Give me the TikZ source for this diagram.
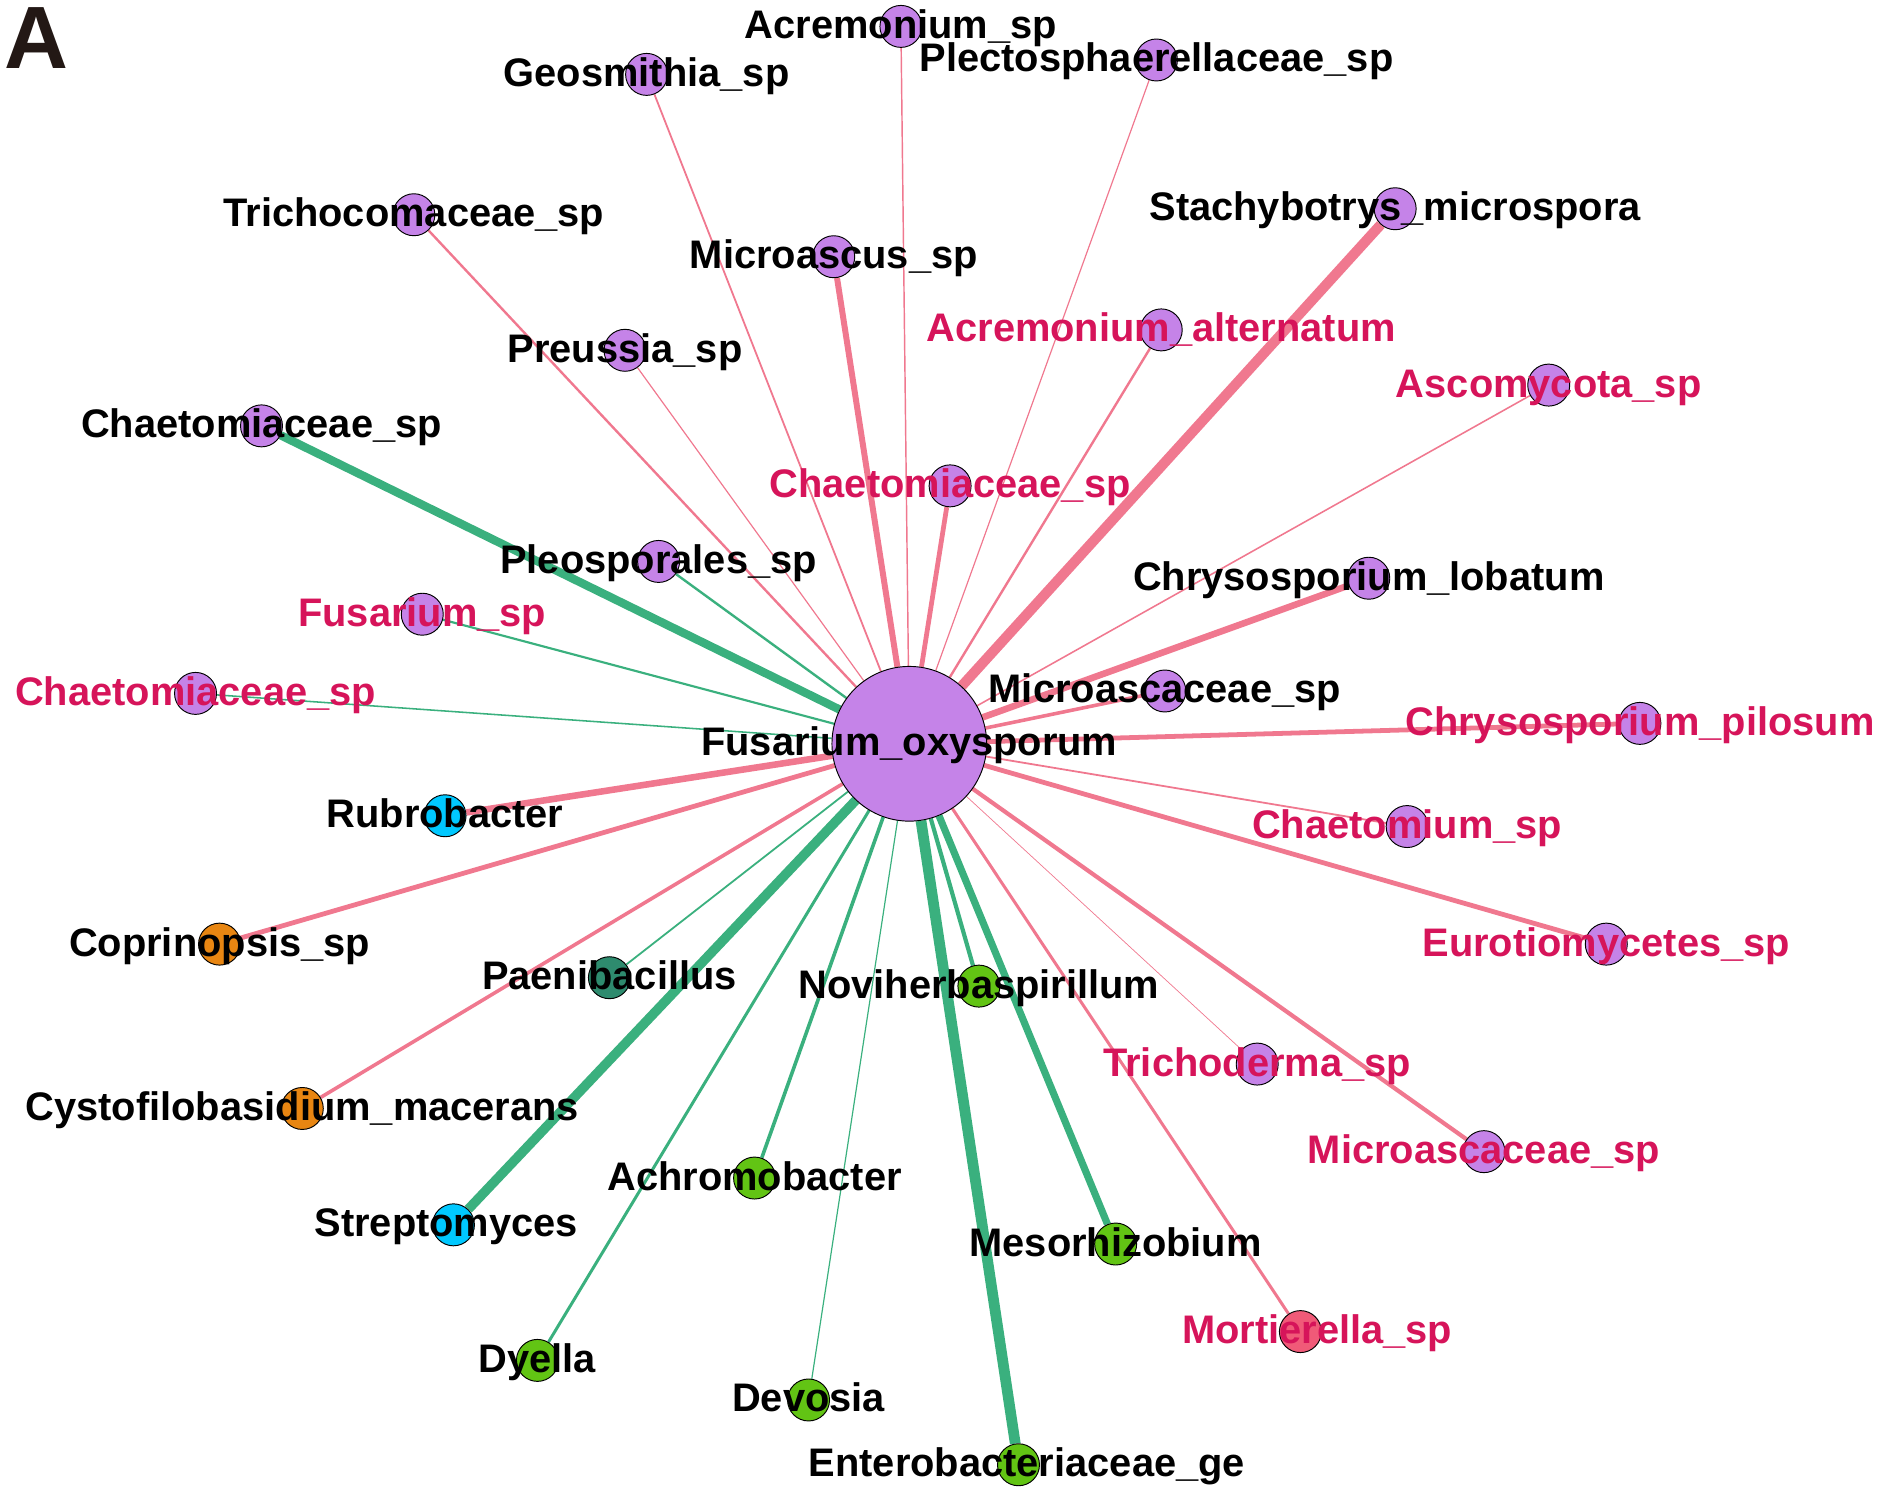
\documentclass[tikz,border=0pt]{standalone}
\usepackage{fontspec}
\setmainfont{Liberation Sans}
\definecolor{purp}{RGB}{197,131,232}
\definecolor{pinkE}{RGB}{240,120,143}
\definecolor{greenE}{RGB}{58,176,126}
\definecolor{labred}{RGB}{214,20,90}
\definecolor{cyanN}{RGB}{0,200,255}
\definecolor{orangeN}{RGB}{232,134,18}
\definecolor{limeN}{RGB}{98,196,20}
\definecolor{dgreenN}{RGB}{46,139,110}
\definecolor{mortN}{RGB}{240,90,120}
\definecolor{letterA}{RGB}{35,24,21}
\newcommand\labfont{\fontsize{18.9}{20}\selectfont\bfseries}
\pgfdeclarelayer{edges}
\pgfsetlayers{edges,main}
\tikzset{
  tx/.style={circle,draw=black,line width=0.45pt,minimum size=0.7cm,inner sep=0pt},
  fun/.style={tx,fill=purp},
  bac/.style={tx,fill=#1},
  lab/.style={font=\labfont,anchor=base,inner sep=0pt,yshift=-0.2cm},
  rl/.style={lab,text=labred},
  pe/.style={draw=pinkE,line width=#1*0.567pt},
  ge/.style={draw=greenE,line width=#1*0.567pt},
}
\begin{document}
\begin{tikzpicture}[x=0.02cm,y=-0.02cm]
\useasboundingbox (0,0) rectangle (1568,1242);
% nodes
\node[fun,minimum size=2.58cm] (c) at (758,620) {};
\node[fun] (n1) at (751,22) {};
\node[fun] (n2) at (964,50) {};
\node[fun] (n3) at (539,62) {};
\node[fun] (n4) at (345,179) {};
\node[fun] (n5) at (695,214) {};
\node[fun] (n6) at (1163,174) {};
\node[fun] (n7) at (968,275) {};
\node[fun] (n8) at (521,292) {};
\node[fun] (n9) at (1291,321) {};
\node[fun] (n10) at (218,355) {};
\node[fun] (n11) at (792,405) {};
\node[fun] (n12) at (549,468) {};
\node[fun] (n13) at (1141,482) {};
\node[fun] (n14) at (352,512) {};
\node[fun] (n15) at (163,578) {};
\node[fun] (n16) at (971,576) {};
\node[fun] (n17) at (1367,603) {};
\node[bac=cyanN] (n18) at (371,680) {};
\node[fun] (n19) at (1173,689) {};
\node[bac=orangeN] (n20) at (183,787) {};
\node[fun] (n21) at (1339,787) {};
\node[bac=dgreenN] (n22) at (508,815) {};
\node[bac=limeN] (n23) at (816,822) {};
\node[fun] (n24) at (1048,887) {};
\node[bac=orangeN] (n25) at (252,924) {};
\node[fun] (n26) at (1237,960) {};
\node[bac=limeN] (n27) at (629,982) {};
\node[bac=cyanN] (n28) at (378,1021) {};
\node[bac=limeN] (n29) at (930,1037) {};
\node[bac=mortN] (n30) at (1084,1110) {};
\node[bac=limeN] (n31) at (448,1134) {};
\node[bac=limeN] (n32) at (674,1167) {};
\node[bac=limeN] (n33) at (849,1221) {};
% edges
\begin{pgfonlayer}{edges}
\draw[pe=1.2] (c) -- (n1);
\draw[pe=1] (c) -- (n2);
\draw[pe=1.5] (c) -- (n3);
\draw[pe=2] (c) -- (n4);
\draw[pe=5] (c) -- (n5);
\draw[pe=8.5] (c) -- (n6);
\draw[pe=2] (c) -- (n7);
\draw[pe=1] (c) -- (n8);
\draw[pe=1.3] (c) -- (n9);
\draw[ge=7] (c) -- (n10);
\draw[pe=4] (c) -- (n11);
\draw[ge=2] (c) -- (n12);
\draw[pe=5.5] (c) -- (n13);
\draw[ge=1.8] (c) -- (n14);
\draw[ge=1.3] (c) -- (n15);
\draw[pe=3] (c) -- (n16);
\draw[pe=4] (c) -- (n17);
\draw[pe=5.5] (c) -- (n18);
\draw[pe=1.5] (c) -- (n19);
\draw[pe=4] (c) -- (n20);
\draw[pe=4] (c) -- (n21);
\draw[ge=1.5] (c) -- (n22);
\draw[ge=3.5] (c) -- (n23);
\draw[pe=0.6] (c) -- (n24);
\draw[pe=3] (c) -- (n25);
\draw[pe=3.5] (c) -- (n26);
\draw[ge=3] (c) -- (n27);
\draw[ge=8] (c) -- (n28);
\draw[ge=6] (c) -- (n29);
\draw[pe=2.5] (c) -- (n30);
\draw[ge=2.5] (c) -- (n31);
\draw[ge=1] (c) -- (n32);
\draw[ge=9] (c) -- (n33);
\end{pgfonlayer}
% labels
\node[lab] (lc) at (c) {Fusarium\_oxysporum};
\node[lab] (l1) at (n1) {Acremonium\_sp};
\node[lab] (l2) at (n2) {Plectosphaerellaceae\_sp};
\node[lab] (l3) at (n3) {Geosmithia\_sp};
\node[lab] (l4) at (n4) {Trichocomaceae\_sp};
\node[lab] (l5) at (n5) {Microascus\_sp};
\node[lab] (l6) at (n6) {Stachybotrys\_microspora};
\node[rl] (l7) at (n7) {Acremonium\_alternatum};
\node[lab] (l8) at (n8) {Preussia\_sp};
\node[rl] (l9) at (n9) {Ascomycota\_sp};
\node[lab] (l10) at (n10) {Chaetomiaceae\_sp};
\node[rl] (l11) at (n11) {Chaetomiaceae\_sp};
\node[lab] (l12) at (n12) {Pleosporales\_sp};
\node[lab] (l13) at (n13) {Chrysosporium\_lobatum};
\node[rl] (l14) at (n14) {Fusarium\_sp};
\node[rl] (l15) at (n15) {Chaetomiaceae\_sp};
\node[lab] (l16) at (n16) {Microascaceae\_sp};
\node[rl] (l17) at (n17) {Chrysosporium\_pilosum};
\node[lab] (l18) at (n18) {Rubrobacter};
\node[rl] (l19) at (n19) {Chaetomium\_sp};
\node[lab] (l20) at (n20) {Coprinopsis\_sp};
\node[rl] (l21) at (n21) {Eurotiomycetes\_sp};
\node[lab] (l22) at (n22) {Paenibacillus};
\node[lab] (l23) at (n23) {Noviherbaspirillum};
\node[rl] (l24) at (n24) {Trichoderma\_sp};
\node[lab] (l25) at (n25) {Cystofilobasidium\_macerans};
\node[rl] (l26) at (n26) {Microascaceae\_sp};
\node[lab] (l27) at (n27) {Achromobacter};
\node[lab,xshift=-0.12cm] (l28) at (n28) {Streptomyces};
\node[lab] (l29) at (n29) {Mesorhizobium};
\node[rl,xshift=0.28cm] (l30) at (n30) {Mortierella\_sp};
\node[lab] (l31) at (n31) {Dyella};
\node[lab] (l32) at (n32) {Devosia};
\node[lab,xshift=0.14cm] (l33) at (n33) {Enterobacteriaceae\_ge};
% panel letter
\node[anchor=base west,inner sep=0pt,text=letterA,font=\fontsize{42}{42}\selectfont\bfseries] (A) at (3,57) {A};
\end{tikzpicture}
\end{document}
